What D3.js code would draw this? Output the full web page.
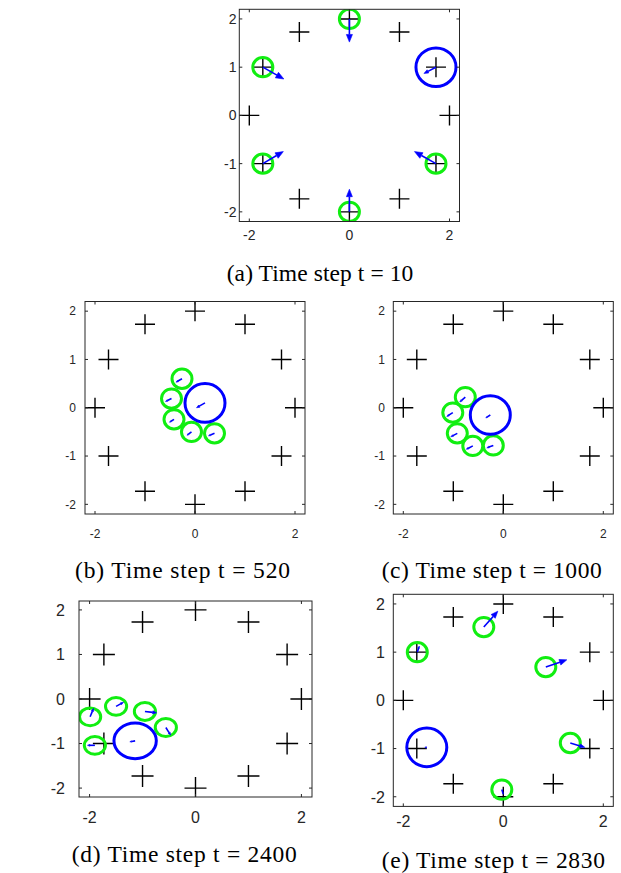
<!DOCTYPE html>
<html><head><meta charset="utf-8">
<script src="https://cdn.jsdelivr.net/npm/d3@7"></script>
<style>body{margin:0;background:#fff;} svg{display:block;}
.cap{font-family:"Liberation Serif","Times New Roman",Times,serif;}
.tl{font-family:"Liberation Sans",Arial,Helvetica,sans-serif;}
</style>
</head><body>
<svg id="chart" width="621" height="873"></svg>
<script>
// ---------------- DATA ----------------
const panelIds = ["a", "b", "c", "d", "e"];
const captions = ["(a) Time step t = 10", "(b) Time step t = 520", "(c) Time step t = 1000",
                  "(d) Time step t = 2400", "(e) Time step t = 2830"];
const xTicks = [-2, 0, 2];
const yTicks = [-2, -1, 0, 1, 2];
const axisDomain = [-2.2, 2.2];

// targets (crosses)
const targetX = [2, 1.73, 1, 0, -1, -1.73, -2, -1.73, -1, 0, 1, 1.73];
const targetY = [0, 1, 1.73, 2, 1.73, 1, 0, -1, -1.73, -2, -1.73, -1];

// green agents per panel: position and velocity arrow
const greenX = {a: [0, -1.73, -1.73, 0, 1.73], b: [-0.26, -0.47, -0.42, -0.07, 0.39],
                c: [-0.76, -1.01, -0.92, -0.61, -0.2], d: [-1.99, -1.5, -0.955, -0.56, -1.9],
                e: [-1.72, -0.39, 0.85, 1.34, -0.03]};
const greenY = {a: [2, 1, -1, -2, -1], b: [0.6, 0.19, -0.24, -0.5, -0.53],
                c: [0.22, -0.1, -0.53, -0.79, -0.78], d: [-0.4, -0.165, -0.28, -0.64, -1.04],
                e: [1.0, 1.52, 0.69, -0.885, -1.85]};
const greenU = {a: [0, 0.42, 0.41, 0, -0.43], b: [-0.12, -0.12, -0.09, -0.09, -0.12],
                c: [-0.11, -0.12, -0.13, -0.13, -0.13], d: [0.065, 0.14, 0.22, 0.09, -0.14],
                e: [0.04, 0.28, 0.42, 0.29, 0.03]};
const greenV = {a: [-0.48, -0.245, 0.25, 0.47, 0.25], b: [-0.07, -0.06, -0.06, -0.07, -0.05],
                c: [-0.1, -0.08, -0.07, -0.07, -0.05], d: [0.19, 0.09, -0.03, -0.17, 0],
                e: [0.125, 0.33, 0.15, -0.09, -0.1]};
const greenR = 0.2;

// blue (leader) agent per panel
const blueX = {a: 1.73, b: 0.2, c: -0.26, d: -1.14, e: -1.53};
const blueY = {a: 1, b: 0.1, c: -0.15, d: -0.94, e: -0.975};
const blueU = {a: -0.24, b: -0.17, c: -0.09, d: -0.1, e: -0.04};
const blueV = {a: -0.13, b: -0.1, c: -0.06, d: -0.02, e: 0};
const blueR = 0.4;

// ---------------- LAYOUT ----------------
const layout = {
  a: {l: 239.3, r: 459.5, t: 9.3, b: 221.5, fs: 14, xlabBase: 240, ylabRight: 236.5,
      cap: {x: 226.7, y: 281, w: 186.6}, cross: 10},
  b: {l: 85, r: 305, t: 301.5, b: 514, fs: 12, xlabBase: 538, ylabRight: 76,
      cap: {x: 75, y: 577.7, w: 215}, cross: 10},
  c: {l: 393.3, r: 613.3, t: 301.5, b: 514, fs: 12, xlabBase: 538, ylabRight: 385,
      cap: {x: 381.7, y: 577.7, w: 220}, cross: 10},
  d: {l: 79, r: 312, t: 601, b: 797, fs: 16, xlabBase: 822.5, ylabRight: 65,
      cap: {x: 71.7, y: 862, w: 225}, cross: 11},
  e: {l: 393.3, r: 613.3, t: 594.3, b: 806.4, fs: 16, xlabBase: 826.5, ylabRight: 385,
      cap: {x: 381.7, y: 867.5, w: 223.3}, cross: 10}
};
const GREEN = "#11ee11", BLUE = "#0000ff", AXC = "#262626";

const svg = d3.select("#chart");

function arrow(g, x0, y0, x1, y1) {
  const dx = x1 - x0, dy = y1 - y0;
  const len = Math.hypot(dx, dy);
  if (len < 0.5) return;
  const ux = dx / len, uy = dy / len;
  const hl = Math.min(len * 0.33, 8), hw = hl * 0.4;
  const bx = x1 - ux * hl, by = y1 - uy * hl;
  g.append("line").attr("x1", x0).attr("y1", y0).attr("x2", bx).attr("y2", by)
    .attr("stroke", BLUE).attr("stroke-width", 1.6);
  g.append("path")
    .attr("d", `M${x1},${y1}L${bx - uy * hw},${by + ux * hw}L${bx + uy * hw},${by - ux * hw}Z`)
    .attr("fill", BLUE).attr("stroke", BLUE).attr("stroke-width", 0.6);
}

panelIds.forEach((id, i) => {
  const L = layout[id];
  const sx = d3.scaleLinear().domain(axisDomain).range([L.l, L.r]);
  const sy = d3.scaleLinear().domain(axisDomain).range([L.b, L.t]);
  const g = svg.append("g");

  const clipId = "clip" + id;
  svg.append("clipPath").attr("id", clipId).append("rect")
    .attr("x", L.l).attr("y", L.t).attr("width", L.r - L.l).attr("height", L.b - L.t);
  const plot = g.append("g").attr("clip-path", `url(#${clipId})`);

  // crosses
  targetX.forEach((tx, k) => {
    const cx = sx(tx), cy = sy(targetY[k]), s = L.cross;
    plot.append("path").attr("d", `M${cx - s},${cy}H${cx + s}M${cx},${cy - s}V${cy + s}`)
      .attr("stroke", "#000").attr("stroke-width", 1.4).attr("fill", "none");
  });

  // green circles
  greenX[id].forEach((gx, k) => {
    plot.append("ellipse").attr("cx", sx(gx)).attr("cy", sy(greenY[id][k]))
      .attr("rx", sx(greenR) - sx(0)).attr("ry", sy(0) - sy(greenR))
      .attr("fill", "none").attr("stroke", GREEN).attr("stroke-width", 3);
  });
  // blue circle
  plot.append("ellipse").attr("cx", sx(blueX[id])).attr("cy", sy(blueY[id]))
    .attr("rx", sx(blueR) - sx(0)).attr("ry", sy(0) - sy(blueR))
    .attr("fill", "none").attr("stroke", BLUE).attr("stroke-width", 3);

  // arrows
  greenX[id].forEach((gx, k) => {
    const gy = greenY[id][k];
    arrow(plot, sx(gx), sy(gy), sx(gx + greenU[id][k]), sy(gy + greenV[id][k]));
  });
  arrow(plot, sx(blueX[id]), sy(blueY[id]), sx(blueX[id] + blueU[id]), sy(blueY[id] + blueV[id]));

  // box
  g.append("rect").attr("x", L.l).attr("y", L.t).attr("width", L.r - L.l).attr("height", L.b - L.t)
    .attr("fill", "none").attr("stroke", AXC).attr("stroke-width", 1);

  // ticks inward on all sides
  const tl = 3;
  xTicks.forEach(v => {
    const x = sx(v);
    g.append("path").attr("d", `M${x},${L.b}V${L.b - tl}M${x},${L.t}V${L.t + tl}`)
      .attr("stroke", AXC).attr("stroke-width", 1);
    g.append("text").attr("class", "tl").attr("x", x).attr("y", L.xlabBase).attr("text-anchor", "middle")
      .attr("font-size", L.fs).attr("fill", AXC).text(v);
  });
  yTicks.forEach(v => {
    const y = sy(v);
    g.append("path").attr("d", `M${L.l},${y}H${L.l + tl}M${L.r},${y}H${L.r - tl}`)
      .attr("stroke", AXC).attr("stroke-width", 1);
    g.append("text").attr("class", "tl").attr("x", L.ylabRight).attr("y", y).attr("dy", "0.36em")
      .attr("text-anchor", "end").attr("font-size", L.fs).attr("fill", AXC).text(v);
  });

  // caption
  svg.append("text").attr("class", "cap").attr("x", L.cap.x).attr("y", L.cap.y)
    .attr("font-size", 23.5)
    .attr("textLength", L.cap.w).attr("lengthAdjust", "spacing")
    .attr("fill", "#000").text(captions[i]);
});
</script>
</body></html>
